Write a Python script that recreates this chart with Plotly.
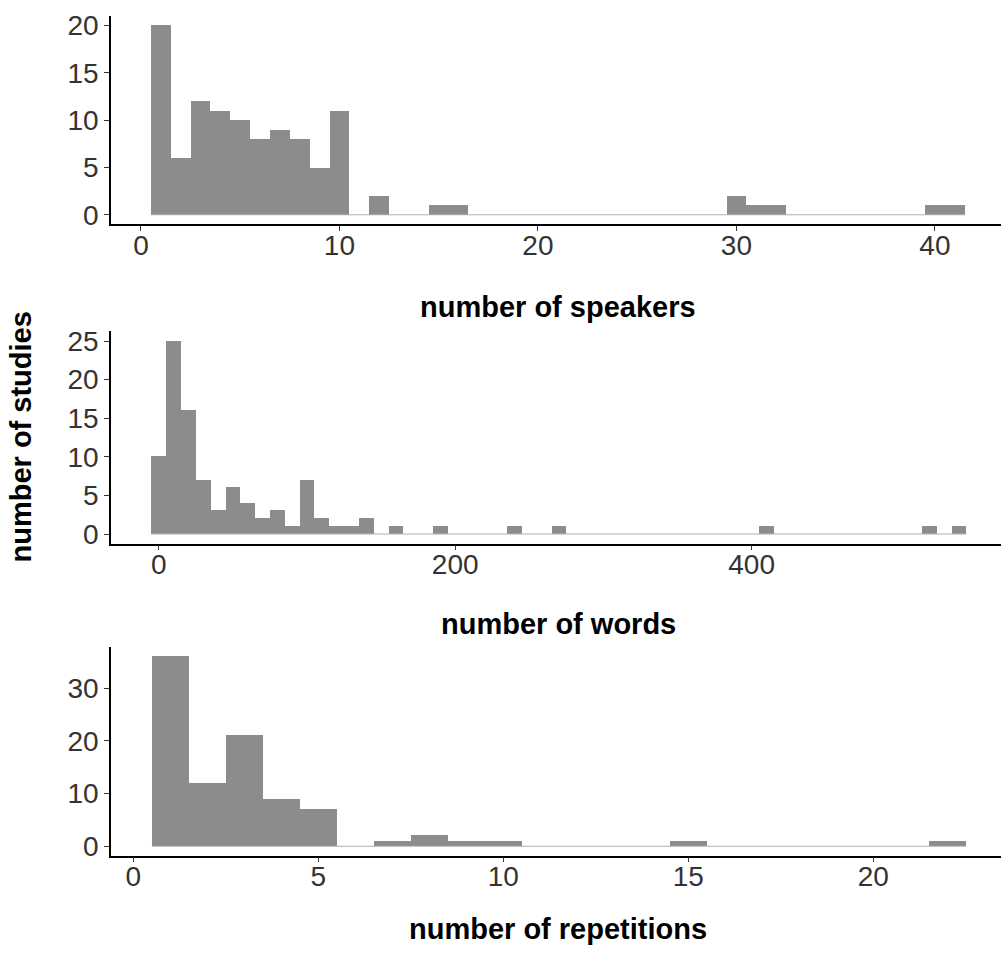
import plotly.graph_objects as go

# ---------------- data ----------------
speaker_bins = list(range(1, 42))
speaker_counts = [20, 6, 12, 11, 10, 8, 9, 8, 5, 11,
                  0, 2, 0, 0, 1, 1, 0, 0, 0, 0,
                  0, 0, 0, 0, 0, 0, 0, 0, 0, 2,
                  1, 1, 0, 0, 0, 0, 0, 0, 0, 1,
                  1]
speaker_width = 1

word_bins = list(range(0, 550, 10))
word_counts = [10, 25, 16, 7, 3, 6, 4, 2, 3, 1,
               7, 2, 1, 1, 2, 0, 1, 0, 0, 1,
               0, 0, 0, 0, 1, 0, 0, 1, 0, 0,
               0, 0, 0, 0, 0, 0, 0, 0, 0, 0,
               0, 1, 0, 0, 0, 0, 0, 0, 0, 0,
               0, 0, 1, 0, 1]
word_width = 10

rep_bins = list(range(1, 23))
rep_counts = [36, 12, 21, 9, 7, 0, 1, 2, 1, 1,
              0, 0, 0, 0, 1, 0, 0, 0, 0, 0,
              0, 1]
rep_width = 1

speaker_ticks = [0, 10, 20, 30, 40]
word_ticks = [0, 200, 400]
rep_ticks = [0, 5, 10, 15, 20]
speaker_yticks = [0, 5, 10, 15, 20]
word_yticks = [0, 5, 10, 15, 20, 25]
rep_yticks = [0, 10, 20, 30]

x_titles = ["number of speakers", "number of words", "number of repetitions"]
y_title = "number of studies"

# ---------------- styling ----------------
W, H = 1001, 956
FILL = "#8c8c8c"
BASE = "#b0b0b0"
FONT = "Liberation Sans, Arial, Helvetica, sans-serif"
TICK_COLOR = "#333333"

fig = go.Figure()

panels = [
    (speaker_bins, speaker_counts, speaker_width, "x", "y"),
    (word_bins, word_counts, word_width, "x2", "y2"),
    (rep_bins, rep_counts, rep_width, "x3", "y3"),
]
for bins, counts, w, xa, ya in panels:
    # zero-count outline running along the baseline of the histogram
    fig.add_trace(go.Scatter(
        x=[bins[0] - w / 2, bins[-1] + w / 2], y=[0, 0],
        mode="lines", line=dict(color=BASE, width=1.2),
        xaxis=xa, yaxis=ya, showlegend=False, hoverinfo="skip"))
    fig.add_trace(go.Bar(
        x=bins, y=counts, width=[w] * len(bins),
        marker=dict(color=FILL, line=dict(width=0)),
        xaxis=xa, yaxis=ya, showlegend=False))


def px_x(p):
    return p / W


def px_y(p):
    return 1 - p / H


left = px_x(111)
axis_common = dict(
    showline=True, linecolor="black", linewidth=1.6,
    ticks="outside", ticklen=5, tickwidth=1.4, tickcolor=TICK_COLOR,
    showgrid=False, zeroline=False,
    tickfont=dict(family=FONT, size=28, color=TICK_COLOR),
)
x_common = dict(axis_common, ticklabelstandoff=-10)

layout = dict(
    width=W, height=H,
    margin=dict(l=0, r=0, t=0, b=0),
    paper_bgcolor="white", plot_bgcolor="white",
    bargap=0, barmode="overlay",
    font=dict(family=FONT),
)

# top panel: speakers
layout["xaxis"] = dict(x_common, domain=[left, 1], range=[-1.51, 43.33],
                       tickvals=speaker_ticks, anchor="y")
layout["yaxis"] = dict(axis_common, domain=[px_y(221), px_y(10)], range=[-1, 21],
                       tickvals=speaker_yticks, anchor="x")
# middle panel: words
layout["xaxis2"] = dict(x_common, domain=[left, 1], range=[-32.3, 568.3],
                        tickvals=word_ticks, anchor="y2")
layout["yaxis2"] = dict(axis_common, domain=[px_y(544.5), px_y(329.5)], range=[-1.25, 26.25],
                        tickvals=word_yticks, anchor="x2")
# bottom panel: repetitions
layout["xaxis3"] = dict(x_common, domain=[left, 1], range=[-0.6, 23.45],
                        tickvals=rep_ticks, anchor="y3")
layout["yaxis3"] = dict(axis_common, domain=[px_y(860.5), px_y(649.5)], range=[-1.8, 37.8],
                        tickvals=rep_yticks, anchor="x3")

title_font = dict(family=FONT, size=29, color="black")
title_y = [305, 626, 935]
annotations = []
for t, yy in zip(x_titles, title_y):
    annotations.append(dict(text="<b>%s</b>" % t, x=px_x(558), y=px_y(yy),
                            xref="paper", yref="paper", xanchor="center", yanchor="middle",
                            showarrow=False, font=title_font))
annotations.append(dict(text="<b>%s</b>" % y_title, x=px_x(21), y=px_y(437),
                        xref="paper", yref="paper", xanchor="center", yanchor="middle",
                        textangle=-90, showarrow=False, font=title_font))
layout["annotations"] = annotations

fig.update_layout(**layout)
fig.write_html("out.html")
